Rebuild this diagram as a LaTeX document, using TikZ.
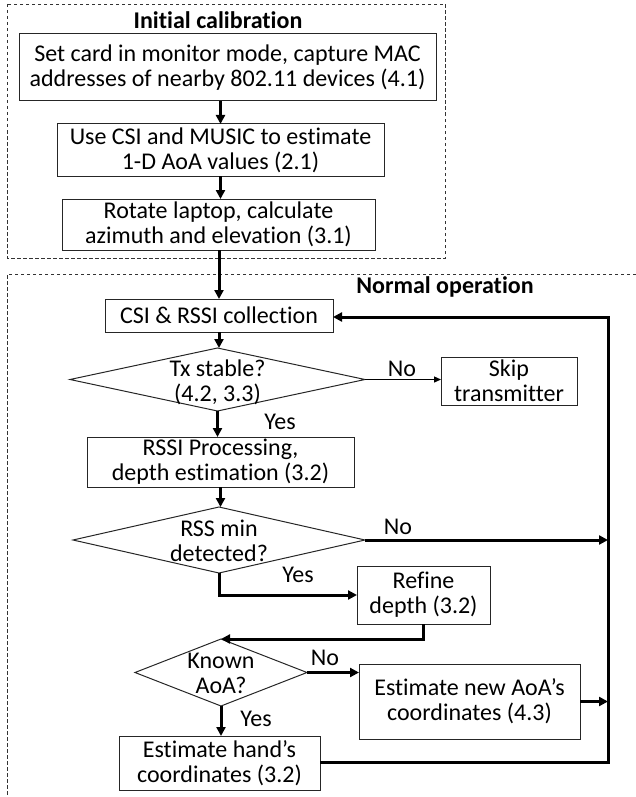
\documentclass[tikz,border=0pt]{standalone}
\usepackage{fontspec}
\setmainfont{Carlito}[Ligatures=NoCommon]
\usetikzlibrary{arrows.meta,shapes.geometric}
\begin{document}
\begin{tikzpicture}[x=1pt,y=-1pt,
  every node/.style={font=\fontsize{24}{25}\selectfont, outer sep=0pt},
  stepbox/.style={draw=black!85, line width=1pt, inner sep=0pt, align=center},
  decision/.style={draw=black!85, line width=1pt, shape=diamond, inner sep=0pt},
  flow/.style={line width=3pt, -{Triangle[length=9pt,width=9pt]}},
  thinflow/.style={line width=1.3pt, -{Triangle[length=7pt,width=6pt]}},
  frame/.style={draw=black!80, line width=0.8pt, dash pattern=on 3.5pt off 2.5pt},
  title/.style={font=\fontsize{24}{25}\selectfont\bfseries},
  lbl/.style={inner sep=0pt}
]
\useasboundingbox (0,0) rectangle (636,797);

% frames
\draw[frame] (7,4) rectangle (445,258);
\draw[frame] (636,274) -- (7,274) -- (7,797);
\node[title] (t1) at (218,20) {Initial calibration};
\node[title] (t2) at (445,287) {Normal operation};

% calibration boxes
\node[stepbox, minimum width=417pt, minimum height=67pt] (box1) at (227.5,67.5)
  {Set card in monitor mode, capture MAC\\addresses of nearby 802.11 devices (4.1)};
\node[stepbox, minimum width=327pt, minimum height=52pt] (box2) at (220.5,150)
  {Use CSI and MUSIC to estimate\\1-D AoA values (2.1)};
\node[stepbox, minimum width=313pt, minimum height=51pt] (box3) at (218.5,224.5)
  {Rotate laptop, calculate\\azimuth and elevation (3.1)};

% normal operation
\node[stepbox, minimum width=228pt, minimum height=33pt] (csi) at (219,315.5) {CSI \& RSSI collection};
\node[decision, minimum width=295pt, minimum height=63pt] (d1) at (217.5,379.5) {};
\node[lbl, align=center] (d1t) at (217.5,382.5) {Tx stable?\\(4.2, 3.3)};
\node[stepbox, minimum width=136pt, minimum height=48pt] (skip) at (509,381) {Skip\\transmitter};
\node[stepbox, minimum width=267pt, minimum height=50pt] (rssi) at (220.5,462)
  {RSSI Processing,\\depth estimation (3.2)};
\node[decision, minimum width=292pt, minimum height=66pt] (d2) at (219,540) {};
\node[lbl, align=center] (d2t) at (219,541) {RSS min\\detected?};
\node[stepbox, minimum width=133pt, minimum height=58pt] (refine) at (423.5,595) {Refine\\depth (3.2)};
\node[decision, minimum width=172pt, minimum height=67pt] (d3) at (221,672.5) {};
\node[lbl, align=center] (d3t) at (221,673.5) {Known\\AoA?};
\node[stepbox, minimum width=221pt, minimum height=75pt] (estnew) at (469.5,701.5)
  {Estimate new AoA’s\\coordinates (4.3)};
\node[stepbox, minimum width=201pt, minimum height=54pt] (esthand) at (219.5,763)
  {Estimate hand’s\\coordinates (3.2)};

\coordinate (loopTop) at (608,317);
\coordinate (loopBot) at (608,762);

% connectors
\draw[flow] (box2.north |- box1.south) -- (box2.north);
\draw[flow] (box2.south) -- (box2.south |- box3.north);
\draw[flow] (csi.north |- box3.south) -- (csi.north);
\draw[flow] (csi.south) -- (csi.south |- d1.north);
\draw[thinflow] (d1.east) -- (skip.west |- d1.east);
\draw[flow] (d1.south) -- (d1.south |- rssi.north);
\draw[flow] (rssi.south) -- (rssi.south |- d2.north);
\draw[flow] (d2.east) -- (d2.east -| loopTop);
\draw[flow] (d2.south) |- (refine.west);
\draw[flow] (refine.south) |- (d3.north);
\draw[flow] (d3.east) -- (d3.east -| estnew.west);
\draw[flow] (estnew.east) -- (estnew.east -| loopTop);
\draw[flow] (d3.south) -- (d3.south |- esthand.north);
\draw[flow, line join=miter] (esthand.east |- loopBot) -- (loopBot) -- (loopTop) -- (csi.east |- loopTop);

% labels
\node[lbl] (n1) at (402,369) {No};
\node[lbl] (y1) at (280,422) {Yes};
\node[lbl] (n2) at (398,527) {No};
\node[lbl] (y2) at (298,575) {Yes};
\node[lbl] (n3) at (325,658) {No};
\node[lbl] (y3) at (256,719) {Yes};
\end{tikzpicture}
\end{document}
